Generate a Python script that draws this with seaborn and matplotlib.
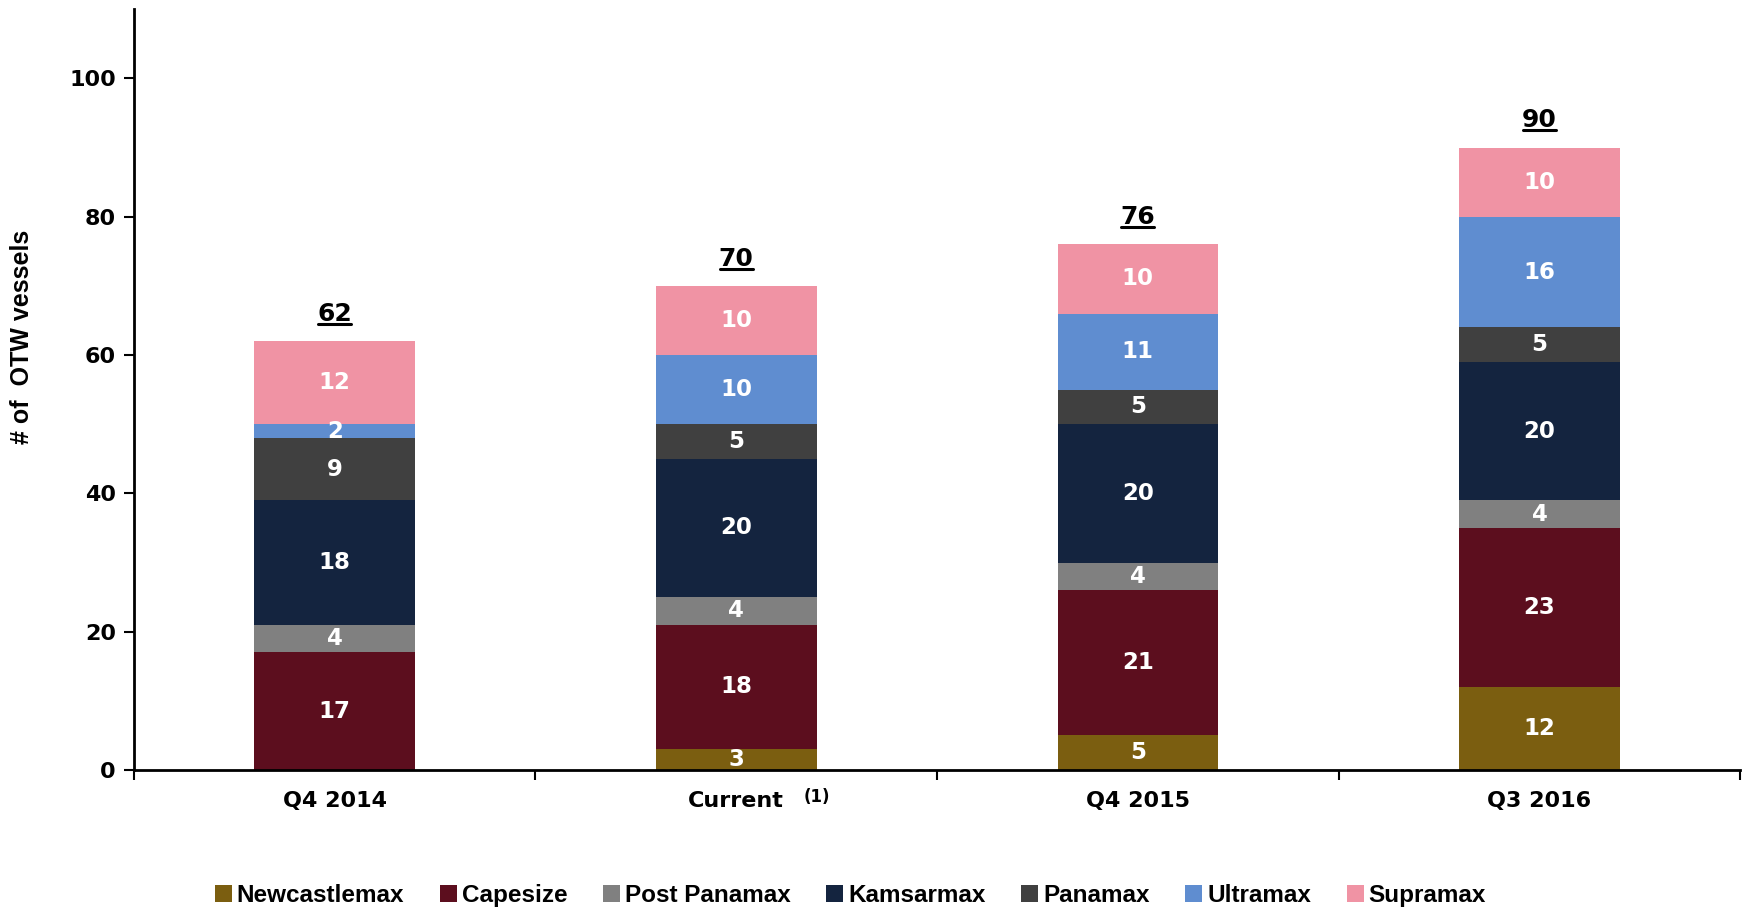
import matplotlib
matplotlib.use('Agg')
import matplotlib.pyplot as plt
from matplotlib.lines import Line2D
import seaborn as sb
import pandas as pd
import numpy as np

periods = ['Q4 2014', 'Current', 'Q4 2015', 'Q3 2016']
series = ['Newcastlemax', 'Capesize', 'Post Panamax', 'Kamsarmax', 'Panamax', 'Ultramax', 'Supramax']
newcastlemax = [0, 3, 5, 12]
capesize = [17, 18, 21, 23]
post_panamax = [4, 4, 4, 4]
kamsarmax = [18, 20, 20, 20]
panamax = [9, 5, 5, 5]
ultramax = [2, 10, 11, 16]
supramax = [12, 10, 10, 10]
colors = ['#7B5E10', '#5C0E1E', '#808080', '#14243F', '#404040', '#5F8DD0', '#F093A4']

values = [newcastlemax, capesize, post_panamax, kamsarmax, panamax, ultramax, supramax]
df = pd.DataFrame({'period': np.tile(periods, len(series)),
                   'series': np.repeat(series, len(periods)),
                   'value': np.concatenate(values)})

sb.set_style('white')
plt.rcParams['font.family'] = ['DejaVu Sans']
plt.rcParams['text.color'] = 'black'
plt.rcParams['xtick.color'] = 'black'
plt.rcParams['ytick.color'] = 'black'
plt.rcParams['axes.labelcolor'] = 'black'
narrow = ['Liberation Sans', 'DejaVu Sans']

fig = plt.figure(figsize=(17.46, 9.11), dpi=100)
ax = fig.add_axes([0.0767, 0.1548, 0.92, 0.835])

bottom = np.zeros(len(periods))
for name, col in zip(series, colors):
    d = df[df['series'] == name]
    sb.barplot(data=d, x='period', y='value', color=col, width=0.4, bottom=bottom,
               ax=ax, label=name, linewidth=0, errorbar=None, saturation=1)
    vals = d['value'].to_numpy()
    for i, v in enumerate(vals):
        if v > 0:
            ax.text(i, bottom[i] + v / 2, str(v), ha='center', va='center',
                    color='white', fontsize=16.5, fontweight='bold')
    bottom = bottom + vals

totals = []
for i, tot in enumerate(bottom):
    t = ax.text(i, tot + 2.2, '%d' % tot, ha='center', va='bottom',
                fontsize=18, fontweight='bold', color='black')
    totals.append(t)

ax.set_xlim(-0.5, 3.5)
ax.set_ylim(0, 110)
ax.set_yticks([0, 20, 40, 60, 80, 100])
ax.set_xticks(np.arange(-0.5, 4.0, 1.0), minor=True)
ax.tick_params(axis='x', which='major', length=0, pad=15, labelsize=16)
ax.tick_params(axis='x', which='minor', length=7, width=1.5, direction='out', bottom=True)
ax.tick_params(axis='y', length=7, width=1.5, direction='out', left=True, labelsize=16, pad=6)
for lab in ax.get_xticklabels() + ax.get_yticklabels():
    lab.set_fontweight('bold')
ax.text(1.2, -0.036, '(1)', transform=ax.get_xaxis_transform(), ha='center', va='center',
        fontsize=12, fontweight='bold')

ax.set_xlabel('')
ax.set_ylabel('# of  OTW vessels', fontsize=18, fontweight='bold', family=narrow)
ax.yaxis.set_label_coords(-0.062, 0.57)
for s in ['top', 'right']:
    ax.spines[s].set_visible(False)
for s in ['left', 'bottom']:
    ax.spines[s].set_linewidth(2)
    ax.spines[s].set_color('black')

handles, labels = ax.get_legend_handles_labels()
ax.legend(handles, labels, ncol=7, frameon=False, loc='center', bbox_to_anchor=(0.487, 0.017),
          bbox_transform=fig.transFigure, handlelength=0.7, handleheight=0.7,
          handletextpad=0.2, columnspacing=1.47,
          prop={'family': narrow, 'weight': 'bold', 'size': 17.5})

# underline the totals
fig.canvas.draw()
r = fig.canvas.get_renderer()
for t in totals:
    bb = t.get_window_extent(r)
    y = bb.y0 + 2
    fig.add_artist(Line2D([bb.x0 + 1, bb.x1 - 1], [y, y], transform=None, color='black', lw=2.2))

fig.savefig('out.png', dpi=100)
